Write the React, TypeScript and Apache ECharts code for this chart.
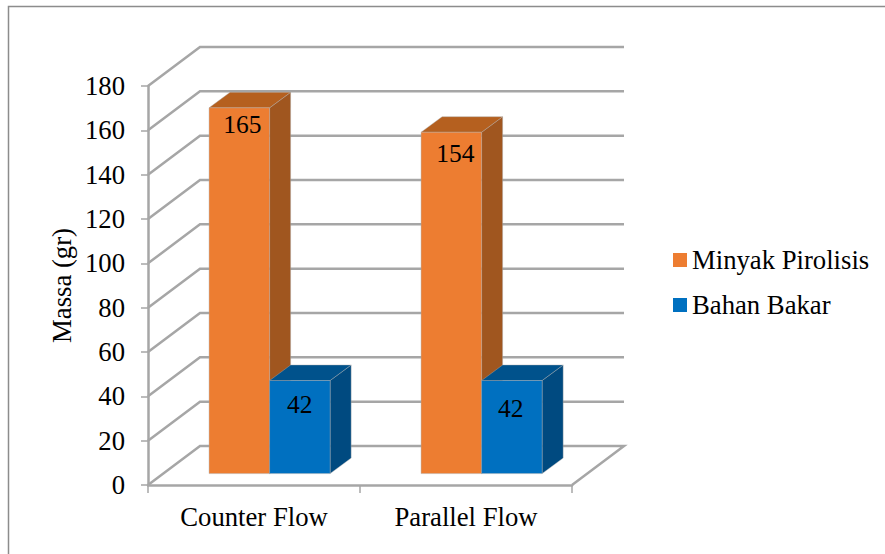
import React, { useEffect, useRef } from "react";
import * as echarts from "echarts";

const categories = ["Counter Flow", "Parallel Flow"];
const minyakPirolisis = [165, 154];
const bahanBakar = [42, 42];
const tickValues = [0, 20, 40, 60, 80, 100, 120, 140, 160, 180];

const SERIF = "'Liberation Serif', 'Times New Roman', serif";
const FONT_SIZE = 26.7;
const VALUE_FONT_SIZE = 25.5;
const GRID_COLOR = "#a6a6a6";
const WALL_DX = 52;
const WALL_DY = -39;
const BASE_DX = 15.6;
const BASE_DY = -11.4;
const BAR_DX = 21;
const BAR_DY = -15.5;
const BAR_RATIO = 0.2855;

const ORANGE = { front: "#ed7d31", top: "#b5601f", side: "#a0561f" };
const BLUE = { front: "#0070c0", top: "#00528c", side: "#004a80" };
const minyakNudges = [[3, 17], [4, 21]];
const bahanNudges = [[0, 24], [-1, 28]];

function wallItem(params: any, api: any) {
  const cs = params.coordSys;
  const v = api.value(0);
  const y = api.coord([0, v])[1];
  const style = { fill: "none", stroke: GRID_COLOR, lineWidth: 2.5 };
  const left = cs.x;
  const right = cs.x + cs.width;
  const points: number[][] = [
    [left, y],
    [left + WALL_DX, y + WALL_DY],
    [right + WALL_DX, y + WALL_DY],
  ];
  if (v === 0) points.push([right, y]);
  return { type: "polyline", shape: { points }, style };
}

function barItem(colors: any, side: number, nudges: number[][]) {
  return (params: any, api: any) => {
    const i = api.value(0);
    const val = api.value(1);
    const top = api.coord([i, val]);
    const bottom = api.coord([i, 0]);
    const w = api.size([1, 0])[0] * BAR_RATIO;
    const x0 = top[0] + BASE_DX + (side === 0 ? -w : 0);
    const x1 = x0 + w;
    const yT = top[1] + BASE_DY;
    const yB = bottom[1] + BASE_DY;
    const edge = { stroke: "rgba(170,170,170,0.55)", lineWidth: 0.75 };
    const n = nudges[i];
    return {
      type: "group",
      children: [
        {
          type: "polygon",
          shape: { points: [[x1, yT], [x1 + BAR_DX, yT + BAR_DY], [x1 + BAR_DX, yB + BAR_DY], [x1, yB]] },
          style: { fill: colors.side, ...edge },
        },
        {
          type: "polygon",
          shape: { points: [[x0, yT], [x0 + BAR_DX, yT + BAR_DY], [x1 + BAR_DX, yT + BAR_DY], [x1, yT]] },
          style: { fill: colors.top, ...edge },
        },
        {
          type: "rect",
          shape: { x: x0, y: yT, width: w, height: yB - yT },
          style: { fill: colors.front, ...edge },
        },
        {
          type: "text",
          x: (x0 + x1) / 2 + n[0],
          y: yT + n[1],
          style: {
            text: String(val),
            fill: "#000",
            font: `${VALUE_FONT_SIZE}px ${SERIF}`,
            align: "center",
            verticalAlign: "middle",
          },
        },
      ],
    };
  };
}

export default function App() {
  const ref = useRef<HTMLDivElement>(null);
  useEffect(() => {
    const chart = echarts.init(ref.current!, null, { renderer: "svg" });
    chart.setOption({
      animation: false,
      backgroundColor: "#fff",
      textStyle: { fontFamily: SERIF },
      grid: { left: 148, right: 313, top: 86, bottom: 69, containLabel: false },
      legend: {
        data: ["Minyak Pirolisis", "Bahan Bakar"],
        orient: "vertical",
        left: 673,
        top: 245,
        padding: 0,
        itemWidth: 14,
        itemHeight: 14,
        itemGap: 15,
        icon: "rect",
        textStyle: { fontFamily: SERIF, fontSize: FONT_SIZE, color: "#000", lineHeight: 28, padding: [2, 0, 0, 0] },
      },
      xAxis: {
        type: "category",
        data: categories,
        axisLine: { show: true, lineStyle: { color: GRID_COLOR, width: 2.5 } },
        axisTick: { show: true, length: 8, lineStyle: { color: GRID_COLOR, width: 1.5 } },
        axisLabel: { color: "#000", fontFamily: SERIF, fontSize: FONT_SIZE, margin: 18 },
      },
      yAxis: {
        type: "value",
        min: 0,
        max: 180,
        interval: 20,
        name: "Massa (gr)",
        nameLocation: "middle",
        nameRotate: 90,
        nameGap: 73,
        nameTextStyle: { color: "#000", fontFamily: SERIF, fontSize: FONT_SIZE },
        axisLine: { show: true, lineStyle: { color: GRID_COLOR, width: 2.5 } },
        axisTick: { show: true, length: 7, lineStyle: { color: GRID_COLOR, width: 1.5 } },
        axisLabel: { color: "#000", fontFamily: SERIF, fontSize: FONT_SIZE, margin: 23, padding: [4, 0, 0, 0] },
        splitLine: { show: false },
      },
      graphic: [
        {
          type: "rect",
          silent: true,
          shape: { x: 8.5, y: 6.5, width: 900, height: 600 },
          style: { fill: "none", stroke: "#8c8c8c", lineWidth: 1.5 },
        },
      ],
      series: [
        {
          name: "walls",
          type: "custom",
          silent: true,
          renderItem: wallItem,
          data: tickValues.map((v) => [v]),
          encode: { y: 0 },
        },
        {
          name: "Minyak Pirolisis",
          type: "custom",
          itemStyle: { color: ORANGE.front },
          renderItem: barItem(ORANGE, 0, minyakNudges),
          data: minyakPirolisis.map((v, i) => [i, v]),
          encode: { x: 0, y: 1 },
        },
        {
          name: "Bahan Bakar",
          type: "custom",
          itemStyle: { color: BLUE.front },
          renderItem: barItem(BLUE, 1, bahanNudges),
          data: bahanBakar.map((v, i) => [i, v]),
          encode: { x: 0, y: 1 },
        },
      ],
    });
    return () => chart.dispose();
  }, []);
  return (
    <div
      ref={ref}
      style={{ position: "absolute", left: 0, top: 0, width: 885, height: 554 }}
    />
  );
}
